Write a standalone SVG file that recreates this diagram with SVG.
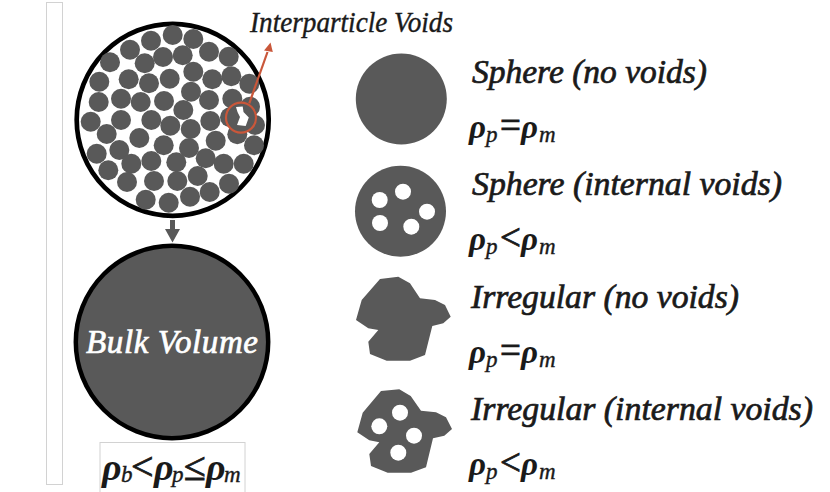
<svg xmlns="http://www.w3.org/2000/svg" width="830" height="492" viewBox="0 0 830 492">
<style>
.d{fill:#595959}
.h{fill:#fff}
.t{font-family:"Liberation Serif",serif;font-style:italic;fill:#1a1a1a;stroke:#1a1a1a;stroke-width:.7;font-size:33px}
.m{font-family:"Liberation Serif",serif;font-style:italic;font-weight:bold;fill:#1a1a1a;font-size:33px}
.o{font-size:37px;font-style:normal;font-weight:normal;stroke:#1a1a1a;stroke-width:.8}
.s{font-size:23px;font-weight:normal;stroke:#1a1a1a;stroke-width:.4}
.f{fill:none;stroke:#d2d2d2;stroke-width:1}
</style>
<rect width="830" height="492" fill="#fff"/>
<rect class="f" x="46.500" y="2.500" width="16" height="482"/>
<rect class="f" x="100" y="442.500" width="145" height="60"/>
<g id="bulk-packing">
<circle cx="172.700" cy="119.800" r="96" fill="#fff" stroke="#000" stroke-width="4.700"/>
<g class="d">
<circle cx="172.700" cy="35" r="10"/><circle cx="151" cy="40.700" r="10"/><circle cx="193.300" cy="39" r="10"/><circle cx="130" cy="49.700" r="10"/><circle cx="209" cy="51.700" r="10"/><circle cx="228.700" cy="56.700" r="10"/><circle cx="110" cy="62.300" r="10"/><circle cx="144.700" cy="63.300" r="10"/><circle cx="163" cy="57" r="10"/><circle cx="182.700" cy="55.300" r="10"/><circle cx="193.300" cy="71.700" r="10"/><circle cx="231.300" cy="76.300" r="10"/><circle cx="212.300" cy="79.300" r="10"/><circle cx="99.300" cy="81.700" r="10"/><circle cx="128.700" cy="79.300" r="10"/><circle cx="149" cy="83.300" r="10"/><circle cx="169.700" cy="78.700" r="10"/><circle cx="249.300" cy="83.700" r="10"/><circle cx="191" cy="91.700" r="10"/><circle cx="98.700" cy="102" r="10"/><circle cx="121" cy="98.700" r="10"/><circle cx="140.700" cy="102" r="10"/><circle cx="164" cy="101" r="10"/><circle cx="209" cy="100" r="10"/><circle cx="232.300" cy="98.700" r="10"/><circle cx="183.300" cy="110" r="10"/><circle cx="250" cy="106.700" r="10"/><circle cx="90.700" cy="121.700" r="10"/><circle cx="121" cy="120" r="10"/><circle cx="151.300" cy="120" r="10"/><circle cx="170.300" cy="125.700" r="10"/><circle cx="190.700" cy="129" r="10"/><circle cx="210.300" cy="121" r="10"/><circle cx="230" cy="117.300" r="10"/><circle cx="255" cy="125" r="10"/><circle cx="106.700" cy="134" r="10"/><circle cx="139.300" cy="138" r="10"/><circle cx="237.300" cy="134.300" r="10"/><circle cx="215.700" cy="140.700" r="10"/><circle cx="163.700" cy="145.300" r="10"/><circle cx="189" cy="148" r="10"/><circle cx="254" cy="145.300" r="10"/><circle cx="96.700" cy="153.700" r="10"/><circle cx="119.300" cy="150" r="10"/><circle cx="131.300" cy="163.700" r="10"/><circle cx="151.300" cy="161" r="10"/><circle cx="176.300" cy="162.300" r="10"/><circle cx="205.700" cy="158.300" r="10"/><circle cx="223.700" cy="163.700" r="10"/><circle cx="243.700" cy="163.700" r="10"/><circle cx="108.300" cy="170.300" r="10"/><circle cx="127" cy="182" r="10"/><circle cx="154" cy="181" r="10"/><circle cx="177.300" cy="181" r="10"/><circle cx="197.700" cy="176" r="10"/><circle cx="229" cy="183.700" r="10"/><circle cx="209.700" cy="192" r="10"/><circle cx="190" cy="196.700" r="10"/><circle cx="145.700" cy="199.700" r="10"/><circle cx="168.700" cy="202.700" r="10"/>
<circle cx="241.500" cy="117.500" r="14.500"/>
</g>
<path class="h" d="M236 107 L242.700 106.500 L243.500 112 L248.800 117.500 L245.700 126 L237 125 L240 117 L237.500 112Z"/>
<circle cx="241" cy="117.700" r="15" fill="none" stroke="#c9573a" stroke-width="2.200"/>
</g>
<g id="connectors">
<path d="M249.300 103.300 L267.500 52" fill="none" stroke="#c9573a" stroke-width="2.200"/>
<path d="M270.500 42.500 L272.800 52 L264 50.500Z" fill="#c9573a"/>
<path class="d" d="M170 220 H175 V229 H180 L172.500 242.500 L165 229 H170Z"/>
</g>
<g id="label-voids"><text x="250" y="32" style="font-family:'Liberation Serif',serif;font-style:italic;font-size:29px;fill:#1a1a1a;stroke:#1a1a1a;stroke-width:.4" textLength="203" lengthAdjust="spacingAndGlyphs">Interparticle Voids</text></g>
<g id="bulk-volume">
<circle cx="172" cy="342" r="96.200" class="d" stroke="#000" stroke-width="4.500"/>
<text x="86" y="353" style="font-family:'Liberation Serif',serif;font-style:italic;font-size:33px;fill:#fff;stroke:#fff;stroke-width:.7" textLength="172" lengthAdjust="spacing">Bulk Volume</text>
</g>
<g id="bulk-formula"><text class="m" y="480" style="font-size:38px"><tspan x="102">ρ</tspan><tspan x="121" y="482" class="s">b</tspan><tspan x="131" y="480" class="o" style="font-size:40px">&lt;</tspan><tspan x="154">ρ</tspan><tspan x="172" y="482" class="s">p</tspan><tspan x="184" y="480" class="o" style="font-size:40px">≤</tspan><tspan x="206">ρ</tspan><tspan x="224" y="482" class="s">m</tspan></text></g>
<g id="sphere-solid">
<circle class="d" cx="401.300" cy="99" r="45.500"/>
<text class="t" x="472" y="83" textLength="235" lengthAdjust="spacingAndGlyphs">Sphere (no voids)</text>
<text class="m" y="138"><tspan x="469">ρ</tspan><tspan x="486" y="142" class="s">p</tspan><tspan x="500" y="138" class="o">=</tspan><tspan x="521">ρ</tspan><tspan x="539" y="142" class="s">m</tspan></text>
</g>
<g id="sphere-voids">
<circle class="d" cx="400.500" cy="211.300" r="45.500"/>
<circle class="h" cx="403" cy="191.700" r="8"/><circle class="h" cx="379.700" cy="200" r="8"/><circle class="h" cx="427" cy="211.700" r="8"/><circle class="h" cx="380" cy="223" r="8"/><circle class="h" cx="411.300" cy="226.700" r="8"/>
<text class="t" x="472" y="195" textLength="310" lengthAdjust="spacingAndGlyphs">Sphere (internal voids)</text>
<text class="m" y="250"><tspan x="469">ρ</tspan><tspan x="486" y="254" class="s">p</tspan><tspan x="500" y="250" class="o">&lt;</tspan><tspan x="521">ρ</tspan><tspan x="539" y="254" class="s">m</tspan></text>
</g>
<g id="irregular-solid">
<path class="d" d="M380 279 L398.300 276.700 L410 283.300 L420 298.300 L435 300 L445 305 L450.700 316.700 L443.300 323.300 L432.300 326 L425 355 L410 360.700 L386.700 360.700 L370 354 L368.300 341.700 L378.300 330 L368.300 328.300 L356 320 L361.700 300Z"/>
<text class="t" x="471" y="308" textLength="268" lengthAdjust="spacingAndGlyphs">Irregular (no voids)</text>
<text class="m" y="363"><tspan x="469">ρ</tspan><tspan x="486" y="367" class="s">p</tspan><tspan x="500" y="363" class="o">=</tspan><tspan x="521">ρ</tspan><tspan x="539" y="367" class="s">m</tspan></text>
</g>
<g id="irregular-voids">
<path class="d" d="M381 391 L399.300 389.300 L410.700 396 L421 410.700 L436 412.300 L446 417.300 L452 429 L444.300 435.700 L433 438.300 L426 467.300 L411 472.700 L387.700 472.700 L371 466 L369.300 454 L379.300 442.300 L369.300 440.300 L357.300 432.300 L362.700 412.700Z"/>
<circle class="h" cx="400" cy="412.700" r="8"/><circle class="h" cx="379.300" cy="426.300" r="8"/><circle class="h" cx="414" cy="435.700" r="8"/><circle class="h" cx="398.300" cy="452.700" r="8"/>
<text class="t" x="471" y="420" textLength="342" lengthAdjust="spacingAndGlyphs">Irregular (internal voids)</text>
<text class="m" y="475"><tspan x="469">ρ</tspan><tspan x="486" y="479" class="s">p</tspan><tspan x="500" y="475" class="o">&lt;</tspan><tspan x="521">ρ</tspan><tspan x="539" y="479" class="s">m</tspan></text>
</g>
</svg>
